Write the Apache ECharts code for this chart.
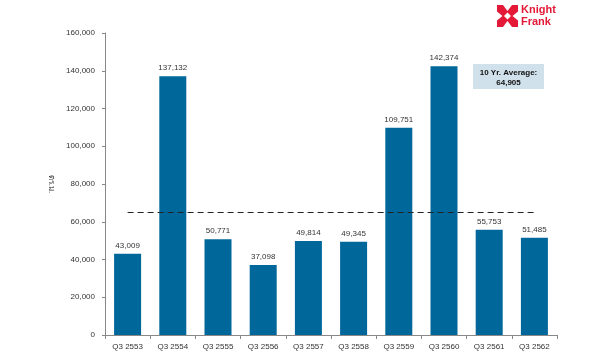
<!DOCTYPE html>
<html>
<head>
<meta charset="utf-8">
<script src="https://cdn.jsdelivr.net/npm/echarts@6/dist/echarts.min.js"></script>
<style>html,body{margin:0;padding:0;background:#fff}#c{width:610px;height:360px}</style>
</head>
<body>
<div id="c"></div>
<script>
var categories = ['Q3 2553','Q3 2554','Q3 2555','Q3 2556','Q3 2557','Q3 2558','Q3 2559','Q3 2560','Q3 2561','Q3 2562'];
var values = [43009, 137132, 50771, 37098, 49814, 49345, 109751, 142374, 55753, 51485];
var average = 64905;
var yTicks = {min: 0, max: 160000, interval: 20000};
var axisName = 'ตร.ม.';

function fmt(v){ return String(v).replace(/\B(?=(\d{3})+(?!\d))/g, ','); }

var chart = echarts.init(document.getElementById('c'), null, {renderer:'canvas'});
var font = 'Liberation Sans, Arial, sans-serif';
chart.setOption({
  animation: false,
  backgroundColor: '#ffffff',
  grid: {left: 105, right: 53, top: 33, bottom: 25},
  xAxis: {
    type: 'category',
    data: categories,
    axisLine: {lineStyle: {color: '#888888', width: 1}},
    axisTick: {show: true, length: 4, lineStyle: {color: '#888888'}},
    axisLabel: {color: '#333333', fontSize: 8, fontFamily: font, margin: 8, interval: 0}
  },
  yAxis: {
    type: 'value',
    min: yTicks.min, max: yTicks.max, interval: yTicks.interval,
    name: axisName,
    nameLocation: 'middle',
    nameRotate: -90,
    nameGap: 48,
    nameTextStyle: {color: '#333333', fontSize: 8, fontFamily: font},
    axisLine: {show: true, lineStyle: {color: '#888888', width: 1}},
    axisTick: {show: true, length: 3, lineStyle: {color: '#888888'}},
    splitLine: {show: false},
    axisLabel: {color: '#333333', fontSize: 8, fontFamily: font, margin: 10, formatter: function(v){return fmt(v);}}
  },
  series: [
    {
      type: 'line',
      data: [],
      z: 1,
      silent: true,
      markLine: {
        silent: true,
        symbol: ['none','none'],
        label: {show: false},
        lineStyle: {color: '#222222', type: [6, 4], width: 1.2},
        data: [[{coord: [0, average]}, {coord: [categories.length - 1, average]}]]
      }
    },
    {
      type: 'bar',
      data: values,
      z: 3,
      barWidth: 27,
      itemStyle: {color: '#00679a'},
      label: {show: true, position: 'top', distance: 4, color: '#333333', fontSize: 8, fontFamily: font, formatter: function(p){return fmt(p.value);}}
    }
  ],
  graphic: [
    {type: 'rect', left: 473, top: 64, shape: {width: 71, height: 25}, style: {fill: '#d0e1eb'}},
    {type: 'text', left: 473, top: 68, style: {text: '10 Yr. Average:\n64,905', width: 71, align: 'center', x: 35.5, fill: '#111111', font: 'bold 8px ' + font, lineHeight: 10, textAlign: 'center'}},
    {type: 'group', left: 497, top: 5, children: [
      {type: 'rect', shape: {x: 0, y: 0, width: 21, height: 22}, style: {fill: '#e31937'}},
      {type: 'polygon', shape: {points: [[6,0],[15,0],[10.5,6]]}, style: {fill: '#ffffff'}},
      {type: 'polygon', shape: {points: [[6,22],[15,22],[10.5,16]]}, style: {fill: '#ffffff'}},
      {type: 'polygon', shape: {points: [[0,6.5],[0,15.5],[5.5,11]]}, style: {fill: '#ffffff'}},
      {type: 'polygon', shape: {points: [[21,6.5],[21,15.5],[15.5,11]]}, style: {fill: '#ffffff'}},
      {type: 'polygon', shape: {points: [[10.5,7.5],[14,11],[10.5,14.5],[7,11]]}, style: {fill: '#ffffff'}}
    ]},
    {type: 'text', left: 521, top: 4, style: {text: 'Knight', fill: '#e31937', font: 'bold 11px ' + font}},
    {type: 'text', left: 521, top: 16, style: {text: 'Frank', fill: '#e31937', font: 'bold 11px ' + font}}
  ]
});
</script>
</body>
</html>
